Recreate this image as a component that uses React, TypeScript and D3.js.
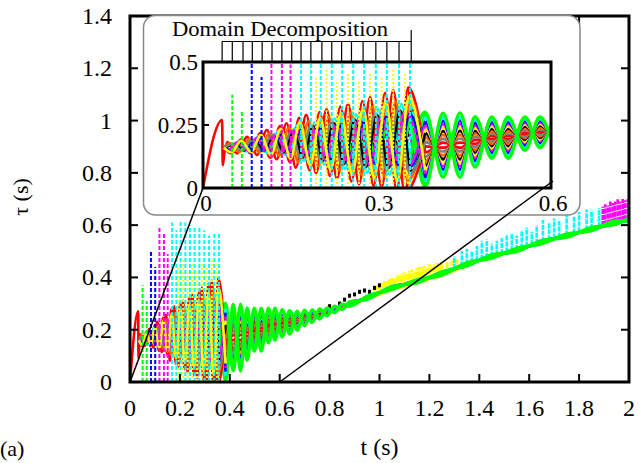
import React from "react";
import * as d3 from "d3";

const W = 641;
const H = 463;

const xTicks = [0, 0.2, 0.4, 0.6, 0.8, 1, 1.2, 1.4, 1.6, 1.8, 2];
const xTickLabels = ["0", "0.2", "0.4", "0.6", "0.8", "1", "1.2", "1.4", "1.6", "1.8", "2"];
const yTicks = [0, 0.2, 0.4, 0.6, 0.8, 1, 1.2, 1.4];
const yTickLabels = ["0", "0.2", "0.4", "0.6", "0.8", "1", "1.2", "1.4"];
const insetXTicks = [0, 0.3, 0.6];
const insetXTickLabels = ["0", "0.3", "0.6"];
const insetYTicks = [0, 0.25, 0.5];
const insetYTickLabels = ["0", "0.25", "0.5"];

// domain decomposition events (s)
const ddTimes = [0.033, 0.0505, 0.069, 0.085, 0.102, 0.119, 0.136, 0.153, 0.169, 0.186, 0.205, 0.222, 0.239, 0.256, 0.276, 0.298, 0.317, 0.338, 0.359];

// oscillation peaks: time, band centre, half amplitude
const lobeTimes = [
  0.042, 0.059, 0.076, 0.093, 0.110, 0.127, 0.144, 0.160, 0.178, 0.195, 0.213, 0.231, 0.250, 0.269, 0.288, 0.308, 0.328, 0.348,
  0.383, 0.414, 0.443, 0.469, 0.498, 0.526, 0.555, 0.581, 0.610, 0.640, 0.670, 0.700, 0.730, 0.760, 0.790, 0.820, 0.850, 0.880,
  0.95, 1.05, 1.15, 1.25, 1.35, 1.45, 1.55, 1.65, 1.75, 1.85, 1.95, 2.0,
];
const lobeMean = [
  0.16, 0.165, 0.17, 0.175, 0.175, 0.18, 0.18, 0.18, 0.18, 0.18, 0.18, 0.18, 0.18, 0.18, 0.185, 0.19, 0.19, 0.19,
  0.153, 0.170, 0.170, 0.183, 0.200, 0.200, 0.216, 0.221, 0.225, 0.228, 0.235, 0.245, 0.252, 0.260, 0.268, 0.278, 0.288, 0.298,
  0.322, 0.36, 0.385, 0.415, 0.45, 0.48, 0.505, 0.535, 0.56, 0.585, 0.61, 0.622,
];
const lobeAmp = [
  0.02, 0.025, 0.03, 0.04, 0.05, 0.06, 0.07, 0.09, 0.10, 0.11, 0.12, 0.13, 0.14, 0.15, 0.16, 0.17, 0.18, 0.19,
  0.148, 0.127, 0.128, 0.100, 0.082, 0.082, 0.066, 0.061, 0.052, 0.045, 0.036, 0.030, 0.024, 0.019, 0.015, 0.012, 0.010, 0.008,
  0.006, 0.006, 0.006, 0.006, 0.006, 0.006, 0.006, 0.006, 0.006, 0.006, 0.006, 0.006,
];
const transientEnd = 0.37;

// series colours (late part drawn inner -> outer)
const seriesColors = ["#ff0000", "#808080", "#ff6600", "#000000", "#ffff00", "#ff00ff", "#0000ff", "#00ffff", "#00ff00"];
const fracLate = [0.08, 0.2, 0.32, 0.44, 0.55, 0.66, 0.76, 0.87, 1.0];
const fracEarly = [1.1, 0.7, 0.85, 0.65, 0.9, 0.6, 0.55, 0.8, 0.5];
const shiftEarly = [0, 0.0085, 0.004, 0.012, 0.006, 0.002, 0.010, 0.014, 0.007];
// transient part drawing order: [colour index, sign]
const earlyOrder = [[8, 1], [0, -1], [7, 1], [1, -1], [6, 1], [2, -1], [5, 1], [3, -1], [4, 1], [0, 1], [8, -1], [2, 1], [7, -1], [3, 1], [6, -1], [1, 1], [5, -1], [4, -1]];
const redStart = [[0, 0], [0.033, 0.27], [0.034, 0.09], [0.037, 0.14]];

// dashed spikes at decompositions
const spikeTimes = [0.0505, 0.067, 0.084, 0.101, 0.118, 0.136, 0.151, 0.169, 0.186, 0.203, 0.222, 0.240, 0.259, 0.278, 0.298, 0.317, 0.338, 0.357];
const spikeTops = [0.37, 0.31, 0.50, 0.44, 0.59, 0.57, 0.49, 0.61, 0.58, 0.62, 0.61, 0.60, 0.59, 0.59, 0.58, 0.56, 0.57, 0.57];
const spikeColors = ["#00ff00", "#00ff00", "#0000ff", "#0000ff", "#ff00ff", "#ff00ff", "#ff00ff", "#00ffff", "#00ffff", "#00ffff", "#00ffff", "#00ffff", "#00ffff", "#00ffff", "#00ffff", "#00ffff", "#00ffff", "#00ffff"];
const yellowSpikeTimes = [0.195, 0.213, 0.231, 0.250, 0.269, 0.288, 0.308, 0.328, 0.348];
const yellowSpikeTops = [0.44, 0.47, 0.42, 0.45, 0.43, 0.46, 0.44, 0.47, 0.45];

// late scatter above the band
const blackDots = [[0.76, 0.275], [0.80, 0.29], [0.84, 0.30], [0.86, 0.315], [0.88, 0.33], [0.90, 0.335], [0.92, 0.345], [0.94, 0.35], [0.96, 0.345], [0.98, 0.36], [1.0, 0.37]];
const yellowNoise = [[0.98, 0.36], [0.99, 0.37], [1.00, 0.375], [1.01, 0.38], [1.02, 0.39], [1.03, 0.385], [1.04, 0.395], [1.05, 0.40], [1.06, 0.395], [1.07, 0.41], [1.08, 0.41], [1.09, 0.415], [1.10, 0.42], [1.11, 0.415], [1.12, 0.425], [1.13, 0.43], [1.14, 0.425], [1.15, 0.435], [1.16, 0.44], [1.17, 0.44], [1.18, 0.445], [1.19, 0.44], [1.20, 0.45], [1.21, 0.445], [1.22, 0.45], [1.23, 0.455], [1.24, 0.45], [1.25, 0.46], [1.27, 0.46], [1.29, 0.465], [1.31, 0.47]];
const cyanSpikes = [[1.30, 0.48], [1.33, 0.50], [1.35, 0.51], [1.37, 0.50], [1.39, 0.52], [1.41, 0.54], [1.43, 0.545], [1.45, 0.53], [1.47, 0.54], [1.49, 0.55], [1.51, 0.565], [1.53, 0.57], [1.55, 0.56], [1.57, 0.58], [1.59, 0.59], [1.61, 0.575], [1.63, 0.60], [1.655, 0.62], [1.68, 0.61], [1.70, 0.625], [1.72, 0.615], [1.75, 0.64], [1.78, 0.635], [1.80, 0.65], [1.83, 0.66], [1.85, 0.655], [1.88, 0.665]];
const magentaSpikes = [[1.895, 0.67], [1.905, 0.68], [1.915, 0.675], [1.925, 0.69], [1.935, 0.685], [1.945, 0.69], [1.955, 0.70], [1.965, 0.69], [1.975, 0.70], [1.985, 0.695], [1.995, 0.70]];

const FONT = "Liberation Serif, DejaVu Serif, serif";

type S = (v: number) => number;

function DataLayer({ xs, ys, clip }: { xs: S; ys: S; clip: string }) {
  const bandAt = d3.scaleLinear().domain(lobeTimes).range(lobeMean).clamp(true);
  const line = d3
    .line<number[]>()
    .x((d) => xs(d[0]))
    .y((d) => ys(d[1]))
    .curve(d3.curveMonotoneX);

  const early: Record<string, { color: string; pts: number[][]; dash: boolean }> = {};
  const late: { color: string; pts: number[][]; w: number }[] = [];
  seriesColors.forEach((c, i) => {
    [1, -1].forEach((sg) => {
      const pts = lobeTimes.map((t, k) => {
        const e = t < transientEnd;
        return [
          t + (e ? (sg === 1 ? shiftEarly[i] : shiftEarly[(i + 4) % 9]) : 0),
          lobeMean[k] + sg * (k % 2 === 0 ? 1 : -1) * (e ? fracEarly[i] : fracLate[i]) * lobeAmp[k],
        ];
      });
      const start = i === 0 && sg === 1 ? redStart : [[0.036, 0.16]];
      const all = [...start, ...pts];
      const cut = all.findIndex((p) => p[0] >= transientEnd);
      const w = c === "#00ff00" ? 3.4 : 2.8;
      early[i + ":" + sg] = { color: c, pts: all.slice(0, cut + 1), dash: sg === -1 && i % 2 === 1 };
      late.push({ color: c, pts: all.slice(cut - 1), w });
    });
  });

  return (
    <g clipPath={`url(#${clip})`}>
      {yellowNoise.map((d, i) => (
        <line key={"yn" + i} x1={xs(d[0])} x2={xs(d[0])} y1={ys(bandAt(d[0]) - 0.012)} y2={ys(d[1])} stroke="#ffff00" strokeWidth={3} strokeDasharray="6,1" />
      ))}
      {cyanSpikes.map((d, i) => (
        <line key={"cs" + i} x1={xs(d[0])} x2={xs(d[0])} y1={ys(bandAt(d[0]))} y2={ys(d[1])} stroke="#00ffff" strokeWidth={2.6} strokeDasharray="5,1" />
      ))}
      {magentaSpikes.map((d, i) => (
        <line key={"ms" + i} x1={xs(d[0])} x2={xs(d[0])} y1={ys(bandAt(d[0]))} y2={ys(d[1])} stroke="#ff00ff" strokeWidth={2.6} strokeDasharray="5,1" />
      ))}
      {blackDots.map((d, i) => (
        <rect key={"bd" + i} x={xs(d[0]) - 1.5} y={ys(d[1]) - 2} width={3} height={4} fill="#000" />
      ))}
      {late.map((s, i) => (
        <path key={"l" + i} d={line(s.pts) || ""} fill="none" stroke={s.color} strokeWidth={s.w} />
      ))}
      {earlyOrder.map(([ci, sg], i) => {
        const s = early[ci + ":" + sg];
        return <path key={"e" + i} d={line(s.pts) || ""} fill="none" stroke={s.color} strokeWidth={2.6} strokeDasharray={s.dash ? "5,2" : undefined} />;
      })}
      {yellowSpikeTimes.map((t, i) => (
        <line key={"ys" + i} x1={xs(t)} x2={xs(t)} y1={ys(0)} y2={ys(yellowSpikeTops[i])} stroke="#ffff00" strokeWidth={2} strokeDasharray="2,2" />
      ))}
      {spikeTimes.map((t, i) => (
        <line key={"sp" + i} x1={xs(t)} x2={xs(t)} y1={ys(0)} y2={ys(spikeTops[i])} stroke={spikeColors[i]} strokeWidth={2} strokeDasharray="4,2" />
      ))}
    </g>
  );
}

export default function App() {
  const x = d3.scaleLinear().domain([0, 2]).range([130, 629]);
  const y = d3.scaleLinear().domain([0, 1.4]).range([382, 16]);
  const xi = d3.scaleLinear().domain([0, 0.6]).range([203, 551]);
  const yi = d3.scaleLinear().domain([0, 0.5]).range([188, 62]);

  const bracketY = 41.5;
  const txt = { fontFamily: FONT };

  return (
    <svg width={W} height={H} style={{ display: "block", position: "absolute", left: 0, top: 0 }}>
      <defs>
        <clipPath id="mainClip">
          <rect x={x(0)} y={y(1.4)} width={x(2) - x(0)} height={y(0) - y(1.4)} />
        </clipPath>
        <clipPath id="insetClip">
          <rect x={xi(0)} y={yi(0.5)} width={xi(0.6) - xi(0)} height={yi(0) - yi(0.5)} />
        </clipPath>
      </defs>
      <rect x={0} y={0} width={W} height={H} fill="#fff" />

      <DataLayer xs={x} ys={y} clip="mainClip" />

      {/* main frame */}
      <rect x={x(0)} y={y(1.4)} width={x(2) - x(0)} height={y(0) - y(1.4)} fill="none" stroke="#000" strokeWidth={3} />
      {xTicks.map((t, i) => (
        <g key={"xt" + i}>
          <line x1={x(t)} x2={x(t)} y1={y(0)} y2={y(0) - 8} stroke="#000" strokeWidth={2} />
          <line x1={x(t)} x2={x(t)} y1={y(1.4)} y2={y(1.4) + 8} stroke="#000" strokeWidth={2} />
          <text style={txt} x={x(t)} y={416} fontSize={24} textAnchor="middle">{xTickLabels[i]}</text>
        </g>
      ))}
      {yTicks.map((t, i) => (
        <g key={"yt" + i}>
          <line x1={x(0)} x2={x(0) + 8} y1={y(t)} y2={y(t)} stroke="#000" strokeWidth={2} />
          <line x1={x(2)} x2={x(2) - 8} y1={y(t)} y2={y(t)} stroke="#000" strokeWidth={2} />
          <text style={txt} x={112} y={y(t) + 8} fontSize={24} textAnchor="end">{yTickLabels[i]}</text>
        </g>
      ))}
      <text style={txt} x={x(1)} y={455} fontSize={24} textAnchor="middle">t (s)</text>
      <text style={txt} transform="translate(28,197) rotate(-90)" fontSize={22} textAnchor="middle">τ (s)</text>
      <text style={txt} x={0} y={456} fontSize={22}>(a)</text>

      {/* inset */}
      <rect x={143.5} y={15.5} width={436.5} height={199.5} rx={12} fill="#fff" stroke="#888" strokeWidth={1.5} />
      <DataLayer xs={xi} ys={yi} clip="insetClip" />
      <rect x={xi(0)} y={yi(0.5)} width={xi(0.6) - xi(0)} height={yi(0) - yi(0.5)} fill="none" stroke="#000" strokeWidth={3} />
      {insetYTicks.map((t, i) => (
        <g key={"iyt" + i}>
          <line x1={xi(0)} x2={xi(0) + 6} y1={yi(t)} y2={yi(t)} stroke="#000" strokeWidth={2} />
          <text style={txt} x={198} y={yi(t) + 8} fontSize={23} textAnchor="end">{insetYTickLabels[i]}</text>
        </g>
      ))}
      {insetXTicks.map((t, i) => (
        <text style={txt} key={"ixt" + i} x={xi(t) + (i === 0 ? 3 : 2)} y={211} fontSize={23} textAnchor="middle">{insetXTickLabels[i]}</text>
      ))}

      {/* domain decomposition bracket */}
      <line x1={xi(ddTimes[0])} x2={xi(ddTimes[ddTimes.length - 1])} y1={bracketY} y2={bracketY} stroke="#000" strokeWidth={1.2} />
      <line x1={xi(ddTimes[ddTimes.length - 1])} x2={xi(ddTimes[ddTimes.length - 1])} y1={30} y2={bracketY} stroke="#000" strokeWidth={1.2} />
      {ddTimes.map((t, i) => (
        <line key={"dd" + i} x1={xi(t)} x2={xi(t)} y1={bracketY} y2={yi(0.5)} stroke="#000" strokeWidth={1.2} />
      ))}
      <text style={txt} x={172} y={36} fontSize={21} textLength={216} lengthAdjust="spacingAndGlyphs">Domain Decomposition</text>

      {/* zoom connectors */}
      <line x1={x(0)} y1={y(0)} x2={xi(0)} y2={yi(0)} stroke="#000" strokeWidth={1.5} />
      <line x1={x(0.6)} y1={y(0)} x2={xi(0.6) + 2} y2={yi(0) - 7} stroke="#000" strokeWidth={1.5} />
    </svg>
  );
}
